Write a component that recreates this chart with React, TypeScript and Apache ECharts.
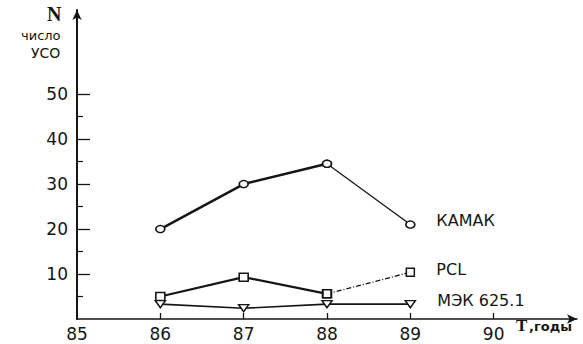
import React, { useEffect, useRef } from "react";
import * as echarts from "echarts";

const years = [86, 87, 88, 89];
const kamakMain = [20, 30, 34.5];
const kamakTail = [34.5, 21];
const pclMain = [5, 9.3, 5.6];
const pclTail = [5.6, 10.4];
const mek = [3.3, 2.4, 3.3, 3.3];
const xTickLabels = [85, 86, 87, 88, 89, 90];
const yTickLabels = [10, 20, 30, 40, 50];
const yMinorTicks = [5, 15, 25, 35, 45];

const INK = "#151515";
const FONT = "DejaVu Sans";

function pairs(xs: number[], ys: number[]) {
  return ys.map((v, i) => [xs[i], v]);
}

export default function App() {
  const ref = useRef<HTMLDivElement>(null);
  useEffect(() => {
    if (!ref.current) return;
    const chart = echarts.init(ref.current, null, { renderer: "svg" });
    const openSym = { color: "#fff", borderColor: INK, borderWidth: 1.5 };
    const endLbl = (text: string, dist: number, dy: number) => ({
      show: true,
      formatter: text,
      distance: dist,
      offset: [0, dy],
      color: INK,
      fontFamily: FONT,
      fontSize: 16,
    });
    chart.setOption({
      animation: false,
      backgroundColor: "#fff",
      grid: { left: 77, right: 6, top: 10, bottom: 25 },
      xAxis: {
        type: "value",
        min: 85,
        max: 91,
        interval: 1,
        axisLine: {
          show: true,
          lineStyle: { color: INK, width: 1.5 },
          symbol: ["none", "arrow"],
          symbolSize: [7, 10],
        },
        axisTick: {
          show: true,
          inside: true,
          length: 6,
          customValues: [86, 87, 88, 89, 90],
          lineStyle: { color: INK, width: 1.3 },
        },
        axisLabel: {
          customValues: xTickLabels,
          color: INK,
          fontFamily: FONT,
          fontSize: 17,
          margin: 6,
          formatter: (v: number) => (v > 90 ? "" : String(v)),
        },
        splitLine: { show: false },
      },
      yAxis: [
        {
          type: "value",
          min: 0,
          max: 68.7,
          interval: 10,
          axisLine: {
            show: true,
            lineStyle: { color: INK, width: 2 },
            symbol: ["none", "arrow"],
            symbolSize: [7, 10],
          },
          axisTick: {
            show: true,
            inside: true,
            length: 13,
            customValues: yTickLabels,
            lineStyle: { color: INK, width: 1.3 },
          },
          axisLabel: {
            customValues: yTickLabels,
            color: INK,
            fontFamily: FONT,
            fontSize: 17,
            margin: 9,
          },
          splitLine: { show: false },
        },
        {
          type: "value",
          min: 0,
          max: 68.7,
          interval: 10,
          position: "left",
          axisLine: { show: false },
          axisTick: {
            show: true,
            inside: true,
            length: 6,
            customValues: yMinorTicks,
            lineStyle: { color: INK, width: 1.2 },
          },
          axisLabel: { show: false },
          splitLine: { show: false },
        },
      ],
      series: [
        {
          type: "line",
          data: pairs(years, kamakMain),
          lineStyle: { color: INK, width: 2.5 },
          symbol: "circle",
          symbolSize: [9, 7],
          itemStyle: openSym,
          z: 3,
        },
        {
          type: "line",
          data: pairs(years.slice(2), kamakTail),
          lineStyle: { color: INK, width: 1.3 },
          symbol: "circle",
          symbolSize: [9, 7],
          itemStyle: openSym,
          endLabel: endLbl("КАМАК", 26, -4),
          z: 3,
        },
        {
          type: "line",
          data: pairs(years, pclMain),
          lineStyle: { color: INK, width: 2.2 },
          symbol: "rect",
          symbolSize: [9, 8],
          itemStyle: openSym,
          z: 3,
        },
        {
          type: "line",
          data: pairs(years.slice(2), pclTail),
          lineStyle: { color: INK, width: 1.3, type: [5, 2, 1, 2] },
          symbol: "rect",
          symbolSize: [8, 8],
          itemStyle: openSym,
          endLabel: endLbl("PCL", 26, -3),
          z: 3,
        },
        {
          type: "line",
          data: pairs(years, mek),
          lineStyle: { color: INK, width: 1.6 },
          symbol: "triangle",
          symbolRotate: 180,
          symbolSize: [10, 7],
          itemStyle: openSym,
          endLabel: endLbl("МЭК 625.1", 27, -4),
          z: 3,
        },
      ],
      graphic: [
        {
          type: "text",
          left: 47,
          top: 4,
          style: {
            text: "N",
            font: "bold 20px 'Liberation Serif'",
            fill: INK,
          },
        },
        {
          type: "text",
          left: 21,
          top: 29,
          style: {
            text: "число",
            font: "13px 'DejaVu Sans'",
            fill: INK,
          },
        },
        {
          type: "text",
          left: 31,
          top: 46,
          style: {
            text: "УСО",
            font: "14px 'DejaVu Sans'",
            fill: INK,
          },
        },
        {
          type: "text",
          left: 516,
          top: 317,
          style: {
            text: "T",
            font: "bold 17px 'Liberation Serif'",
            fill: INK,
          },
        },
        {
          type: "text",
          left: 529,
          top: 320,
          style: {
            text: ",годы",
            font: "bold 13px 'DejaVu Sans'",
            fill: INK,
          },
        },
      ],
    });
    return () => chart.dispose();
  }, []);
  return (
    <div
      ref={ref}
      style={{ position: "fixed", left: 0, top: 0, width: 583, height: 344 }}
    />
  );
}
